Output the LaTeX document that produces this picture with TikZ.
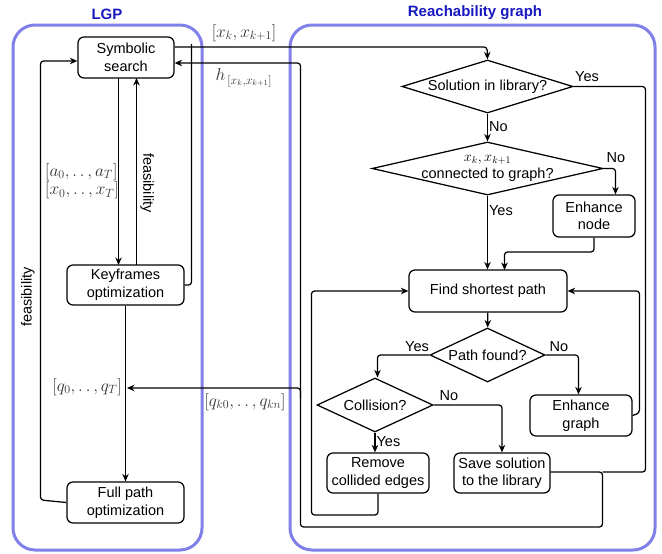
\documentclass[tikz,border=0pt]{standalone}
\usepackage{amsmath}
\usepackage{fontspec}
\setmainfont{Liberation Sans}
\usetikzlibrary{arrows.meta,shapes.geometric}

\definecolor{frameblue}{RGB}{128,128,232}
\definecolor{titleblue}{RGB}{24,24,190}

\begin{document}
\begin{tikzpicture}[x=1pt, y=-1pt,
  every node/.style={font=\fontsize{14.5}{17.5}\selectfont},
  box/.style={draw, rounded corners=6pt, line width=1.25pt, align=center,
              inner sep=2pt},
  dec/.style={draw, diamond, line width=1.25pt, inner sep=0pt},
  frame/.style={draw=frameblue, line width=3pt, rounded corners=22pt},
  title/.style={font=\fontsize{15}{18}\selectfont\bfseries, text=titleblue},
  lab/.style={inner sep=1pt},
  mlab/.style={inner sep=1pt, text=black!80,
               font=\fontsize{16.5}{18.5}\selectfont},
  conn/.style={-{Stealth[length=7.5pt,width=6.5pt]}, line width=1.25pt,
               rounded corners=3pt}]

  \useasboundingbox (0,0) rectangle (662,554);

  % frames
  \draw[frame] (13,25) rectangle (202,550);
  \draw[frame] (290,25) rectangle (655,550);
  \node[title] (tlgp) at (107,14) {LGP};
  \node[title] (treach) at (475,13) {Reachability graph};

  % LGP side
  \node[box, minimum width=96pt, minimum height=41pt] (sym) at (126,57.5)
    {Symbolic\\search};
  \node[box, minimum width=117pt, minimum height=40pt] (key) at (125.5,285)
    {Keyframes\\optimization};
  \node[box, minimum width=117pt, minimum height=41pt] (full) at (125.5,502.5)
    {Full path\\optimization};

  % Reachability graph side
  \node[dec, minimum width=171pt, minimum height=53pt,
        label={center:Solution in library?}] (sol) at (487.5,86.5) {};
  \node[dec, minimum width=231pt, minimum height=53pt,
        label={[align=center]center:$x_k, x_{k+1}$\\connected to graph?}]
        (cnct) at (487.5,168.5) {};
  \node[box, minimum width=82pt, minimum height=42pt] (enode) at (594,216)
    {Enhance\\node};
  \node[box, minimum width=158pt, minimum height=42pt] (find) at (488,291)
    {Find shortest path};
  \node[dec, minimum width=115pt, minimum height=54pt,
        label={center:Path found?}] (pfound) at (487.5,355) {};
  \node[dec, minimum width=116pt, minimum height=54pt,
        label={center:Collision?}] (coll) at (375,405) {};
  \node[box, minimum width=102pt, minimum height=41pt] (egraph) at (581,415.5)
    {Enhance\\graph};
  \node[box, minimum width=102pt, minimum height=40pt] (remove) at (378,473)
    {Remove\\collided edges};
  \node[box, minimum width=96pt, minimum height=40pt] (save) at (502,473)
    {Save solution\\to the library};

  % LGP connectors
  \draw[conn] (118.5,78) -- (118.5,265);
  \draw[conn] (136.5,265) -- (136.5,78);
  \draw[conn] (key) -- (full);
  \draw[conn] (full.west) -- (40.5,500) |- (sym.west |- 61,61);
  \node[mlab, align=left] (alab) at (82,181)
    {$[a_0, .\,.\,, a_T]$\\$[x_0, .\,.\,, x_T]$};
  \node[lab, rotate=-90] (feas1) at (147,183) {feasibility};
  \node[lab, rotate=90] (feas2) at (28,297) {feasibility};
  \node[mlab, anchor=east] (qlab) at (123,387) {$[q_0, .\,.\,, q_T]$};

  % LGP -> reachability graph
  \draw[line width=1.25pt, rounded corners=3pt] (key.east) -- (191.5,285) |- (191.5,47);
  \draw[conn] (sym.east |- 47,47) -- (487,47) -- (sol.north);
  \node[mlab] (xlab) at (244,33) {$[x_k, x_{k+1}]$};
  \node[mlab] (hlab) at (244,78) {$h_{\,[x_k, x_{k+1}]}$};
  \node[mlab] (qklab) at (245,402) {$[q_{k0}, .\,.\,, q_{kn}]$};

  % reachability graph flow
  \draw[conn] (sol.south) -- (cnct.north) node[lab, pos=0.45, right] (no1) {No};
  \draw[conn] (cnct.south) -- (find.north -| cnct.south)
    node[lab, pos=0.2, right] (yes2) {Yes};
  \draw[conn] (cnct.east) -- (615.5,168.5) -- (enode.north -| 615.5,0);
  \node[lab] (no2) at (616,158) {No};
  \draw[conn] (enode.south) -- (594,252) -| (504.5,270);
  \draw[conn] (find) -- (pfound);
  \draw[conn] (pfound.west) -| (coll.north -| 377.5,0);
  \node[lab] (yes3) at (417,347) {Yes};
  \draw[conn] (pfound.east) -| (egraph.north -| 578.5,0);
  \node[lab] (no3) at (559,347) {No};
  \draw[conn] (coll.east) -| (save.north);
  \node[lab] (no4) at (449,396) {No};
  \draw[conn] (coll.south) -- (remove.north -| coll.south)
    node[lab, pos=0.45, right] (yes4) {Yes};
  \draw[conn] (egraph.east) -- (639.5,413) |- (find.east);
  \draw[conn] (remove.south) -- (378,515) -| (311.5,291) -- (find.west);

  % results back to LGP
  \draw[line width=1.25pt, rounded corners=3pt] (sol.east) -| (645.5,472) -- (602.5,472);
  \node[lab] (yes1) at (587,77) {Yes};
  \draw[conn] (save.east |- 472,472) -- (602.5,472) |- (300.5,527) |- (sym.east |- 63,63);
  \draw[conn] (300.5,398) -- (300.5,388) -- (127,388);
\end{tikzpicture}
\end{document}
